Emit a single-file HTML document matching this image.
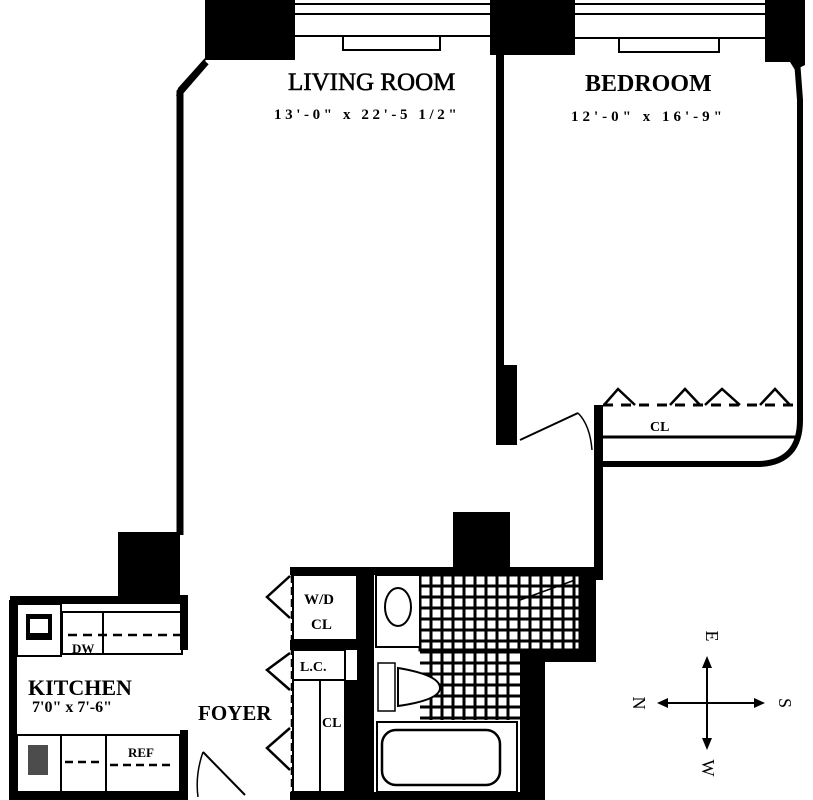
<!DOCTYPE html>
<html><head><style>
html,body{margin:0;padding:0;background:#fff;}
svg{display:block;}
text{font-family:"Liberation Serif",serif;fill:#000;}
</style></head><body>
<svg width="813" height="800" viewBox="0 0 813 800" xmlns="http://www.w3.org/2000/svg">
<rect width="813" height="800" fill="#fff"/>
<!-- top pillars -->
<path d="M205,0 H295 V38 H295 V60 H205 Z" fill="#000"/>
<path d="M205,58 L178,88 L176,96 L206,64 Z" fill="#000"/>
<rect x="490" y="0" width="85" height="55" fill="#000"/>
<path d="M765,0 H805 V65 L795,70 L790,62 L765,62 Z" fill="#000"/>
<!-- windows -->
<g fill="none" stroke="#000" stroke-width="2">
<line x1="295" y1="4" x2="490" y2="4"/><line x1="295" y1="14" x2="490" y2="14"/><line x1="295" y1="36" x2="490" y2="36"/>
<rect x="343" y="36" width="97" height="14"/>
<line x1="575" y1="4" x2="765" y2="4"/><line x1="575" y1="14" x2="765" y2="14"/><line x1="575" y1="38" x2="765" y2="38"/>
<rect x="619" y="38" width="100" height="14"/>
</g>
<!-- living room walls -->
<path d="M206,62 L180,92 L180,535" fill="none" stroke="#000" stroke-width="7"/>
<rect x="496" y="40" width="8" height="405" fill="#000"/>
<rect x="502" y="365" width="15" height="80" fill="#000"/>
<!-- bedroom right wall -->
<path d="M797,60 L800,100 V420 Q800,462 760,464 H600" fill="none" stroke="#000" stroke-width="6"/>
<rect x="594" y="405" width="9" height="175" fill="#000"/>
<!-- closet -->
<line x1="603" y1="405" x2="798" y2="405" stroke="#000" stroke-width="3" stroke-dasharray="10,8"/>
<line x1="603" y1="437" x2="798" y2="437" stroke="#000" stroke-width="3"/>
<g fill="none" stroke="#000" stroke-width="2.5">
<path d="M604,405 L618,389 L635,405"/><path d="M670,405 L685,389 L700,405"/><path d="M705,405 L722,389 L740,405"/><path d="M760,405 L775,389 L790,405"/>
</g>
<text x="650" y="431" font-size="14" font-weight="bold">CL</text>
<!-- bedroom door -->
<line x1="520" y1="440" x2="578" y2="413" stroke="#000" stroke-width="2"/>
<path d="M578,413 Q590,425 592,450" fill="none" stroke="#000" stroke-width="1.5"/>
<!-- labels -->
<text x="288" y="90" font-size="25" stroke="#000" stroke-width="0.6">LIVING ROOM</text>
<text x="274" y="119" font-size="15" font-weight="bold" font-family="Liberation Sans" letter-spacing="3.6">13'-0" x 22'-5 1/2"</text>
<text x="585" y="91" font-size="24" font-weight="bold">BEDROOM</text>
<text x="571" y="121" font-size="15" font-weight="bold" font-family="Liberation Sans" letter-spacing="4">12'-0" x 16'-9"</text>
<!-- pillar center -->
<rect x="453" y="512" width="57" height="58" fill="#000"/>
<!-- closet/bath block -->
<rect x="290" y="567" width="305" height="8" fill="#000"/>
<rect x="357" y="567" width="17" height="233" fill="#000"/>
<rect x="580" y="567" width="16" height="95" fill="#000"/>
<rect x="530" y="650" width="66" height="12" fill="#000"/>
<rect x="520" y="650" width="25" height="150" fill="#000"/>
<rect x="290" y="792" width="255" height="8" fill="#000"/>
<!-- tiles -->
<g stroke="#000" stroke-width="3">
<rect x="420" y="575" width="160" height="75" fill="none"/>
<path d="M420,586H580M420,597H580M420,608H580M420,619H580M420,630H580M420,641H580M420,652H520M420,663H520M420,674H520M420,685H520M420,696H520M420,707H520M420,718H520"/>
<path d="M431,575V720M442,575V720M453,575V720M464,575V720M475,575V720M486,575V720M497,575V720M508,575V720M519,575V650M530,575V650M541,575V650M552,575V650M563,575V650M574,575V650"/>
</g>
<rect x="398" y="652" width="22" height="70" fill="#fff"/>
<rect x="376" y="575" width="44" height="72" fill="#fff" stroke="#000" stroke-width="2"/>
<ellipse cx="398" cy="607" rx="13" ry="19" fill="#fff" stroke="#000" stroke-width="2"/>
<rect x="378" y="663" width="17" height="48" fill="#fff" stroke="#000" stroke-width="1.5"/>
<path d="M398,668 Q440,675 440,688 Q440,700 398,706 Z" fill="#fff" stroke="#000" stroke-width="2"/>
<line x1="520" y1="600" x2="575" y2="580" stroke="#000" stroke-width="1.5"/>
<rect x="377" y="722" width="140" height="70" fill="#fff" stroke="#000" stroke-width="2"/>
<rect x="382" y="730" width="118" height="55" rx="14" fill="#fff" stroke="#000" stroke-width="2.5"/>
<!-- closets -->
<g fill="none" stroke="#000" stroke-width="2">
<rect x="293" y="575" width="64" height="65"/>
<rect x="293" y="650" width="52" height="30"/>
<rect x="293" y="680" width="52" height="112"/>
<line x1="320" y1="680" x2="320" y2="792"/>
</g>
<rect x="345" y="680" width="12" height="112" fill="#000"/>
<rect x="290" y="640" width="67" height="10" fill="#000"/>
<line x1="292" y1="575" x2="292" y2="792" stroke="#000" stroke-width="2.5" stroke-dasharray="8,4"/>
<g fill="none" stroke="#000" stroke-width="2.5">
<path d="M290,576 L267,597 L290,618"/><path d="M290,653 L267,670 L290,690"/><path d="M290,728 L267,748 L290,770"/>
</g>
<text x="304" y="604" font-size="15" font-weight="bold">W/D</text>
<text x="311" y="629" font-size="15" font-weight="bold">CL</text>
<text x="300" y="671" font-size="14" font-weight="bold">L.C.</text>
<text x="322" y="727" font-size="14" font-weight="bold">CL</text>
<text x="198" y="720" font-size="21" font-weight="bold">FOYER</text>
<!-- kitchen -->
<rect x="118" y="532" width="62" height="70" fill="#000"/>
<path d="M10,600 H180" stroke="#000" stroke-width="8"/>
<path d="M13,600 V797 H185" fill="none" stroke="#000" stroke-width="8"/>
<rect x="180" y="595" width="8" height="55" fill="#000"/>
<rect x="180" y="730" width="8" height="70" fill="#000"/>
<g fill="none" stroke="#000" stroke-width="2">
<rect x="62" y="612" width="120" height="42"/>
<rect x="103" y="612" width="79" height="42"/>
<rect x="106" y="735" width="74" height="57"/>
<rect x="60" y="735" width="46" height="57"/>
</g>
<rect x="17" y="604" width="44" height="52" fill="#fff" stroke="#000" stroke-width="2"/>
<rect x="26" y="614" width="26" height="26" fill="#000"/>
<rect x="30" y="619" width="18" height="14" fill="#fff"/>
<rect x="17" y="735" width="44" height="57" fill="#fff" stroke="#000" stroke-width="2"/>
<rect x="28" y="745" width="20" height="30" fill="#000" opacity="0.7"/>
<line x1="68" y1="635" x2="180" y2="635" stroke="#000" stroke-width="2.5" stroke-dasharray="9,6"/>
<line x1="65" y1="762" x2="100" y2="762" stroke="#000" stroke-width="2.5" stroke-dasharray="8,5"/>
<line x1="110" y1="765" x2="175" y2="765" stroke="#000" stroke-width="2.5" stroke-dasharray="8,5"/>
<text x="72" y="653" font-size="13" font-weight="bold">DW</text>
<text x="128" y="757" font-size="13" font-weight="bold">REF</text>
<text x="28" y="695" font-size="22" font-weight="bold">KITCHEN</text>
<text x="32" y="712" font-size="16" font-weight="bold">7'0" x 7'-6"</text>
<!-- foyer door -->
<line x1="203" y1="752" x2="245" y2="795" stroke="#000" stroke-width="2"/>
<path d="M203,752 Q195,775 198,797" fill="none" stroke="#000" stroke-width="1.5"/>
<!-- compass -->
<g stroke="#000" stroke-width="2">
<line x1="664" y1="703" x2="758" y2="703"/>
<line x1="707" y1="662" x2="707" y2="744"/>
</g>
<g fill="#000">
<path d="M657,703 L668,698 L668,708 Z"/><path d="M765,703 L754,698 L754,708 Z"/>
<path d="M707,656 L702,668 L712,668 Z"/><path d="M707,750 L702,738 L712,738 Z"/>
</g>
<g font-size="18">
<text transform="translate(706,636) rotate(90)" text-anchor="middle">E</text>
<text transform="translate(633,703) rotate(90)" text-anchor="middle">N</text>
<text transform="translate(779,703) rotate(90)" text-anchor="middle">S</text>
<text transform="translate(702,768) rotate(90)" text-anchor="middle">W</text>
</g>
</svg>
</body></html>
